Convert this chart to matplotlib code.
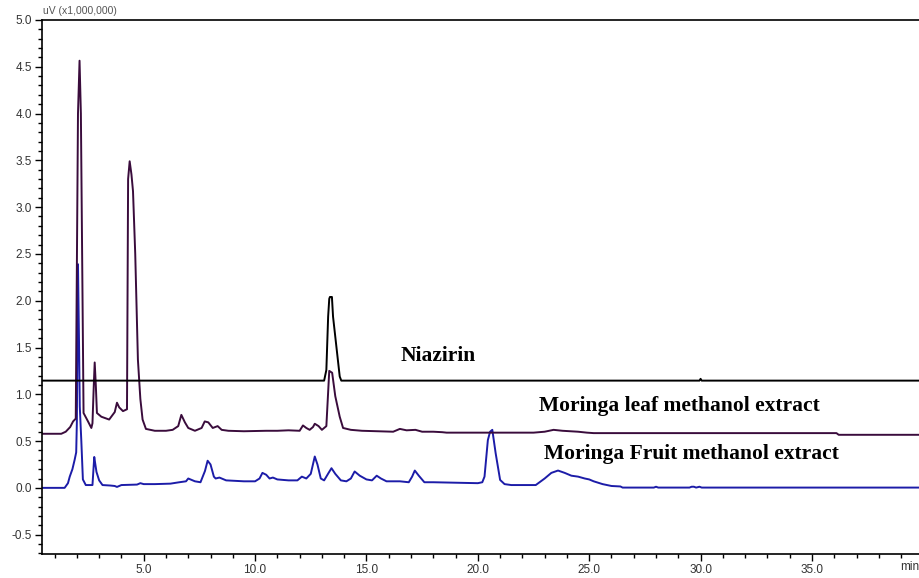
import matplotlib
matplotlib.use('Agg')
import matplotlib.pyplot as plt
from matplotlib.ticker import MultipleLocator, FormatStrFormatter

# chromatogram traces: (retention time [min], signal [uV x 1e6])
niazirin = [(0.42, 1.146), (13.1, 1.146), (13.2, 1.26), (13.28, 1.83), (13.33, 2.02),
            (13.36, 2.04), (13.45, 2.04), (13.5, 1.83), (13.65, 1.51), (13.8, 1.19),
            (13.87, 1.146), (29.95, 1.146), (30.0, 1.165), (30.05, 1.146), (39.85, 1.146)]

leaf = [(0.42, 0.578), (1.3, 0.578), (1.5, 0.60), (1.7, 0.65), (1.83, 0.71), (1.95, 0.74),
        (2.05, 4.0), (2.12, 4.565), (2.18, 4.0), (2.3, 0.80), (2.5, 0.71), (2.65, 0.64),
        (2.7, 0.69), (2.76, 1.1), (2.8, 1.34), (2.85, 1.1), (2.9, 0.80), (3.1, 0.76),
        (3.45, 0.73), (3.7, 0.81), (3.8, 0.91), (3.9, 0.86), (4.07, 0.82), (4.25, 0.84),
        (4.3, 3.3), (4.37, 3.49), (4.45, 3.35), (4.52, 3.17), (4.62, 2.5), (4.74, 1.37),
        (4.85, 0.95), (4.95, 0.73), (5.1, 0.63), (5.5, 0.61), (6.0, 0.61), (6.3, 0.62),
        (6.55, 0.66), (6.69, 0.78), (6.85, 0.70), (7.0, 0.64), (7.3, 0.61), (7.6, 0.64),
        (7.74, 0.71), (7.9, 0.70), (8.1, 0.64), (8.32, 0.66), (8.5, 0.62), (8.8, 0.61),
        (9.5, 0.605), (10.5, 0.61), (11.0, 0.61), (11.5, 0.615), (12.0, 0.61), (12.15, 0.667),
        (12.3, 0.64), (12.45, 0.62), (12.6, 0.65), (12.68, 0.685), (12.85, 0.66), (13.0, 0.62),
        (13.2, 0.66), (13.33, 1.25), (13.46, 1.23), (13.6, 0.98), (13.8, 0.76), (13.95, 0.64),
        (14.3, 0.62), (14.8, 0.61), (15.5, 0.605), (16.2, 0.60), (16.5, 0.63), (16.8, 0.615),
        (17.2, 0.62), (17.5, 0.60), (18.0, 0.60), (18.4, 0.595), (18.6, 0.59), (20.0, 0.59),
        (21.5, 0.59), (22.5, 0.59), (23.0, 0.60), (23.4, 0.62), (23.8, 0.61), (24.5, 0.60),
        (24.9, 0.59), (25.2, 0.585), (30.0, 0.585), (36.1, 0.585), (36.2, 0.567), (39.85, 0.567)]

fruit = [(0.42, 0.0), (1.45, 0.0), (1.6, 0.05), (1.68, 0.12), (1.8, 0.20), (1.9, 0.30),
         (1.97, 0.38), (2.0, 0.71), (2.05, 2.39), (2.1, 1.5), (2.13, 0.87), (2.2, 0.5),
         (2.27, 0.09), (2.4, 0.03), (2.55, 0.03), (2.7, 0.03), (2.78, 0.33), (2.83, 0.25),
         (2.88, 0.17), (3.0, 0.08), (3.15, 0.03), (3.5, 0.025), (3.7, 0.02), (3.8, 0.01),
         (4.0, 0.03), (4.7, 0.035), (4.85, 0.05), (5.0, 0.04), (5.5, 0.04), (6.2, 0.045),
         (6.6, 0.06), (6.9, 0.07), (7.0, 0.10), (7.3, 0.07), (7.55, 0.06), (7.75, 0.18),
         (7.87, 0.29), (8.0, 0.25), (8.15, 0.12), (8.23, 0.10), (8.4, 0.11), (8.7, 0.08),
         (9.5, 0.07), (10.0, 0.07), (10.2, 0.10), (10.33, 0.16), (10.5, 0.14), (10.65, 0.10),
         (10.8, 0.11), (11.0, 0.09), (11.5, 0.08), (11.9, 0.08), (12.1, 0.12), (12.3, 0.10),
         (12.5, 0.15), (12.68, 0.335), (12.8, 0.25), (12.95, 0.10), (13.1, 0.08), (13.3, 0.16),
         (13.43, 0.21), (13.6, 0.15), (13.85, 0.08), (14.1, 0.07), (14.3, 0.10), (14.47, 0.175),
         (14.7, 0.13), (15.0, 0.09), (15.25, 0.08), (15.46, 0.13), (15.65, 0.10), (15.9, 0.07),
         (16.5, 0.07), (16.9, 0.06), (17.05, 0.12), (17.17, 0.185), (17.35, 0.13), (17.6, 0.06),
         (18.0, 0.06), (19.0, 0.055), (20.0, 0.05), (20.2, 0.06), (20.3, 0.12), (20.45, 0.51),
         (20.55, 0.60), (20.65, 0.62), (20.8, 0.37), (21.0, 0.085), (21.2, 0.04), (21.5, 0.03),
         (22.0, 0.03), (22.6, 0.03), (23.0, 0.10), (23.3, 0.16), (23.6, 0.185), (23.9, 0.16),
         (24.2, 0.13), (24.5, 0.12), (24.8, 0.10), (25.0, 0.09), (25.2, 0.07), (25.6, 0.04),
         (26.0, 0.02), (26.4, 0.015), (26.5, 0.003), (27.9, 0.003), (28.0, 0.012), (28.1, 0.003),
         (29.5, 0.003), (29.6, 0.012), (29.7, 0.012), (29.8, 0.003), (29.95, 0.012), (30.05, 0.003),
         (39.85, 0.003)]

labels = ['Niazirin', 'Moringa leaf methanol extract', 'Moringa Fruit methanol extract']

fig = plt.figure(figsize=(9.2, 5.78), dpi=100)
ax = fig.add_axes([0.0453, 0.0415, 0.9547, 0.9239])

for trace, col in [(fruit, '#1c1ca8'), (leaf, '#3a0c3c'), (niazirin, '#000000')]:
    t, v = zip(*trace)
    ax.plot(t, v, color=col, lw=1.4)

ax.set_xlim(0.42, 39.85)
ax.set_ylim(-0.707, 5.0)

ax.xaxis.set_major_locator(MultipleLocator(5))
ax.xaxis.set_minor_locator(MultipleLocator(1))
ax.yaxis.set_major_locator(MultipleLocator(0.5))
ax.yaxis.set_minor_locator(MultipleLocator(0.1))
ax.xaxis.set_major_formatter(FormatStrFormatter('%.1f'))
ax.yaxis.set_major_formatter(FormatStrFormatter('%.1f'))
ax.tick_params(which='major', direction='out', length=5, width=1, labelsize=8.5,
               labelcolor='#333333', pad=2)
ax.tick_params(which='minor', direction='out', length=3, width=1)
for lab in ax.get_xticklabels() + ax.get_yticklabels():
    lab.set_family('Liberation Sans')

ax.spines['right'].set_visible(False)
for s in ['left', 'bottom', 'top']:
    ax.spines[s].set_linewidth(1.2)

fig.text(0.0465, 0.972, 'uV (x1,000,000)', fontsize=7.5, color='#555555',
         family='Liberation Sans', va='bottom', ha='left')
fig.text(0.999, 0.0415 - 0.012, 'min', fontsize=8.5, color='#333333',
         family='Liberation Sans', va='top', ha='right')

ax.text(18.2, 1.41, labels[0], fontsize=15.5, fontweight='bold',
        family='Liberation Serif', ha='center', va='center')
ax.text(22.75, 0.88, labels[1], fontsize=15.5, fontweight='bold',
        family='Liberation Serif', ha='left', va='center')
ax.text(22.95, 0.36, labels[2], fontsize=15.5, fontweight='bold',
        family='Liberation Serif', ha='left', va='center')

fig.savefig('out.png', dpi=100)
